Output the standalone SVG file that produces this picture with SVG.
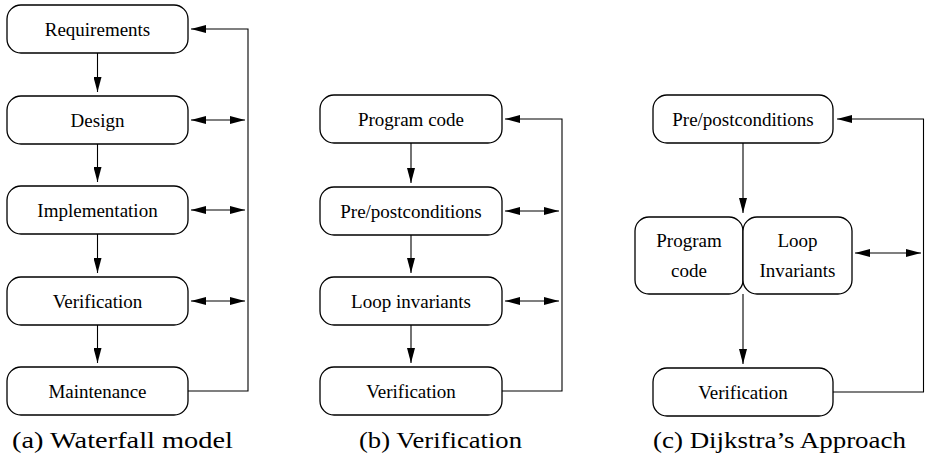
<svg xmlns="http://www.w3.org/2000/svg" width="925" height="459" viewBox="0 0 925 459">
<style>
.box{fill:#fff;stroke:#000;stroke-width:1.3}
.lbl{font-family:'Liberation Serif','Tinos','Nimbus Roman','Noto Serif','FreeSerif','DejaVu Serif',Times,serif;font-size:19px;fill:#000;text-anchor:middle}
.cap{font-family:'Liberation Serif','Tinos','Nimbus Roman','Noto Serif','FreeSerif','DejaVu Serif',Times,serif;font-size:23px;fill:#000}
.ln{fill:none;stroke:#000;stroke-width:1.1}
</style>
<defs>
<marker id="ah" viewBox="0 0 15 8" refX="15" refY="4" markerWidth="15" markerHeight="8" markerUnits="userSpaceOnUse" orient="auto-start-reverse">
<path d="M0,0 L15,4 L0,8 z" fill="#000"/>
</marker>
</defs>
<rect width="925" height="459" fill="#fff"/>
<g id="connectors">
<path class="ln" d="M97.5,53 V92" marker-end="url(#ah)"/>
<path class="ln" d="M97.5,144 V182" marker-end="url(#ah)"/>
<path class="ln" d="M97.5,234 V273" marker-end="url(#ah)"/>
<path class="ln" d="M97.5,325 V363" marker-end="url(#ah)"/>
<path class="ln" d="M188,391 H248 V29 H191" marker-end="url(#ah)"/>
<path class="ln" d="M191,120 H245" marker-start="url(#ah)" marker-end="url(#ah)"/>
<path class="ln" d="M191,210 H245" marker-start="url(#ah)" marker-end="url(#ah)"/>
<path class="ln" d="M191,301 H245" marker-start="url(#ah)" marker-end="url(#ah)"/>
<path class="ln" d="M411,143 V183" marker-end="url(#ah)"/>
<path class="ln" d="M411,235 V273" marker-end="url(#ah)"/>
<path class="ln" d="M411,325 V363" marker-end="url(#ah)"/>
<path class="ln" d="M502,391 H562 V119 H505" marker-end="url(#ah)"/>
<path class="ln" d="M505,211 H559" marker-start="url(#ah)" marker-end="url(#ah)"/>
<path class="ln" d="M505,301 H559" marker-start="url(#ah)" marker-end="url(#ah)"/>
<path class="ln" d="M743,143 V213" marker-end="url(#ah)"/>
<path class="ln" d="M743,294 V364" marker-end="url(#ah)"/>
<path class="ln" d="M833,392 H923.5 V119 H837" marker-end="url(#ah)"/>
<path class="ln" d="M855,253 H921" marker-start="url(#ah)" marker-end="url(#ah)"/>
</g>
<g id="a-requirements"><rect class="box" x="7" y="5" width="181" height="48" rx="14"/><text class="lbl" x="97.5" y="35.5">Requirements</text></g>
<g id="a-design"><rect class="box" x="7" y="96" width="181" height="48" rx="14"/><text class="lbl" x="97.5" y="126.5">Design</text></g>
<g id="a-implementation"><rect class="box" x="7" y="186" width="181" height="48" rx="14"/><text class="lbl" x="97.5" y="216.5">Implementation</text></g>
<g id="a-verification"><rect class="box" x="7" y="277" width="181" height="48" rx="14"/><text class="lbl" x="97.5" y="307.5">Verification</text></g>
<g id="a-maintenance"><rect class="box" x="7" y="367" width="181" height="48" rx="14"/><text class="lbl" x="97.5" y="397.5">Maintenance</text></g>
<g id="b-program"><rect class="box" x="320" y="95" width="182" height="48" rx="14"/><text class="lbl" x="411" y="125.5">Program code</text></g>
<g id="b-prepost"><rect class="box" x="320" y="187" width="182" height="48" rx="14"/><text class="lbl" x="411" y="217.5">Pre/postconditions</text></g>
<g id="b-loop"><rect class="box" x="320" y="277" width="182" height="48" rx="14"/><text class="lbl" x="411" y="307.5">Loop invariants</text></g>
<g id="b-verification"><rect class="box" x="320" y="367" width="182" height="48" rx="14"/><text class="lbl" x="411" y="397.5">Verification</text></g>
<g id="c-prepost"><rect class="box" x="653" y="95" width="180" height="48" rx="14"/><text class="lbl" x="743" y="125.5">Pre/postconditions</text></g>
<g id="c-program"><rect class="box" x="635" y="217" width="108" height="77" rx="14"/><text class="lbl" x="689" y="247">Program</text><text class="lbl" x="689" y="277">code</text></g>
<g id="c-loop"><rect class="box" x="743" y="217" width="109" height="77" rx="14"/><text class="lbl" x="797.5" y="247">Loop</text><text class="lbl" x="797.5" y="277">Invariants</text></g>
<g id="c-verification"><rect class="box" x="653" y="368" width="180" height="48" rx="14"/><text class="lbl" x="743" y="398.5">Verification</text></g>
<g id="captions">
<text class="cap" x="12" y="448" textLength="221" lengthAdjust="spacingAndGlyphs">(a) Waterfall model</text>
<text class="cap" x="359" y="448" textLength="163" lengthAdjust="spacingAndGlyphs">(b) Verification</text>
<text class="cap" x="653" y="448" textLength="253" lengthAdjust="spacingAndGlyphs">(c) Dijkstra’s Approach</text>
</g>
</svg>
